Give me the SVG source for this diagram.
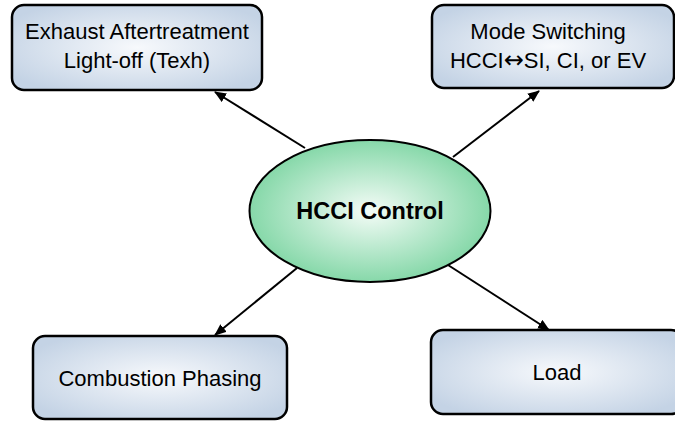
<svg xmlns="http://www.w3.org/2000/svg" width="675" height="421" viewBox="0 0 675 421">
<defs>
<radialGradient id="boxg" cx="50%" cy="50%" r="60%">
<stop offset="0" stop-color="#f7f9fc"/>
<stop offset="1" stop-color="#c4d3e5"/>
</radialGradient>
<radialGradient id="ellg" cx="50%" cy="50%" r="50%">
<stop offset="0" stop-color="#f4fcf7"/>
<stop offset="1" stop-color="#86d8a9"/>
</radialGradient>
<marker id="ah" markerWidth="12" markerHeight="10" refX="11" refY="5" orient="auto" markerUnits="userSpaceOnUse">
<path d="M0,0 L12,5 L0,10 Z" fill="#000"/>
</marker>
</defs>
<style>
.box{fill:url(#boxg);stroke:#000;stroke-width:2.5}
.t{font-family:"Liberation Sans",Arial,sans-serif;font-size:22px;fill:#000;text-anchor:middle}
.b{font-weight:bold;font-size:23.5px}
.c{stroke:#000;stroke-width:2;fill:none;marker-end:url(#ah)}
.ar{font-family:"DejaVu Sans",sans-serif;font-size:24px}
</style>
<g id="connectors">
<line class="c" x1="305" y1="148" x2="215" y2="92"/>
<line class="c" x1="453" y1="157" x2="539" y2="91"/>
<line class="c" x1="297" y1="268" x2="215" y2="335"/>
<line class="c" x1="448" y1="265" x2="549" y2="330"/>
</g>
<g id="exhaust">
<rect class="box" x="12" y="5" width="250" height="85" rx="12"/>
<text class="t" x="137" y="39">Exhaust Aftertreatment</text>
<text class="t" x="137" y="68">Light-off (Texh)</text>
</g>
<g id="mode">
<rect class="box" x="432" y="5" width="242" height="83" rx="12"/>
<text class="t" x="548" y="39">Mode Switching</text>
<text class="t" x="548" y="68">HCCI<tspan class="ar">↔</tspan>SI, CI, or EV</text>
</g>
<g id="hcci">
<ellipse cx="370" cy="211" rx="120.5" ry="71" fill="url(#ellg)" stroke="#000" stroke-width="2"/>
<text class="t b" x="370" y="219">HCCI Control</text>
</g>
<g id="combustion">
<rect class="box" x="33" y="336" width="254" height="83" rx="12"/>
<text class="t" x="160" y="386">Combustion Phasing</text>
</g>
<g id="load">
<rect class="box" x="431" y="330" width="252" height="84" rx="12"/>
<text class="t" x="557" y="380">Load</text>
</g>
</svg>
